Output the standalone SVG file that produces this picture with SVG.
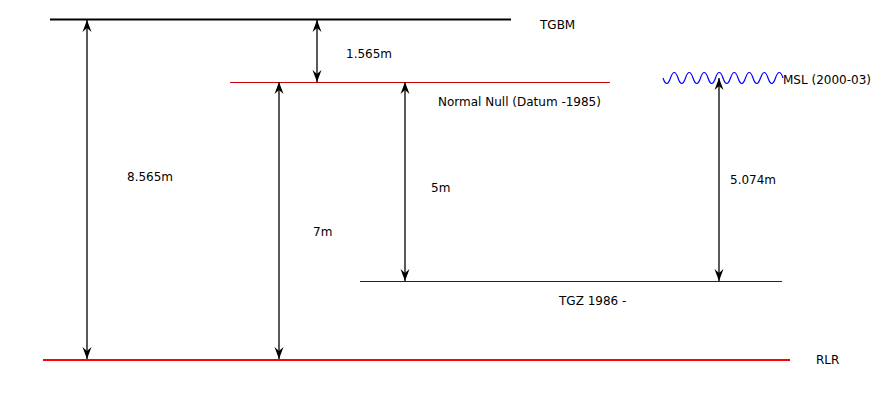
<svg xmlns="http://www.w3.org/2000/svg" width="875" height="400" viewBox="0 0 875 400">
<style>
text{font-family:"DejaVu Sans",sans-serif;font-size:12px;fill:#000}
.dim{stroke:#000;stroke-width:1.3;fill:none;marker-start:url(#ah);marker-end:url(#ah)}
</style>
<defs>
<marker id="ah" viewBox="-13 -5 14 10" markerWidth="14" markerHeight="10" refX="0" refY="0" orient="auto-start-reverse" markerUnits="userSpaceOnUse">
<path d="M0,0 L-12,-4.5 L-8,0 L-12,4.5 Z" fill="#000"/>
</marker>
</defs>
<rect width="875" height="400" fill="#fff"/>
<g id="tgbm"><line x1="50" y1="19.5" x2="511" y2="19.5" stroke="#000" stroke-width="2"/><text x="540" y="29">TGBM</text></g>
<g id="normal-null"><line x1="230" y1="82.5" x2="610" y2="82.5" stroke="#c00" stroke-width="1"/><text x="438" y="106">Normal Null (Datum -1985)</text></g>
<g id="msl"><path d="M663,78 q3.75,11 7.5,0 t7.5,0 t7.5,0 t7.5,0 t7.5,0 t7.5,0 t7.5,0 t7.5,0 t7.5,0 t7.5,0 t7.5,0 t7.5,0 t7.5,0 t7.5,0 t7.5,0 t7.5,0" stroke="#00f" stroke-width="1.2" fill="none"/><text x="783" y="84">MSL (2000-03)</text></g>
<g id="tgz"><line x1="360" y1="281.5" x2="782" y2="281.5" stroke="#700" stroke-width="1"/><text x="559" y="305">TGZ 1986 -</text></g>
<g id="rlr"><line x1="43" y1="360" x2="790" y2="360" stroke="#f00" stroke-width="2"/><text x="816" y="364">RLR</text></g>
<g id="connectors">
<line class="dim" x1="87" y1="20" x2="87" y2="359"/>
<line class="dim" x1="317" y1="20" x2="317" y2="82"/>
<line class="dim" x1="279" y1="82" x2="279" y2="359"/>
<line class="dim" x1="405" y1="82" x2="405" y2="281"/>
<line class="dim" x1="719" y1="78" x2="719" y2="281"/>
</g>
<g id="labels">
<text x="127" y="181">8.565m</text>
<text x="346" y="58">1.565m</text>
<text x="313" y="236">7m</text>
<text x="431" y="192">5m</text>
<text x="730" y="184">5.074m</text>
</g>
</svg>
